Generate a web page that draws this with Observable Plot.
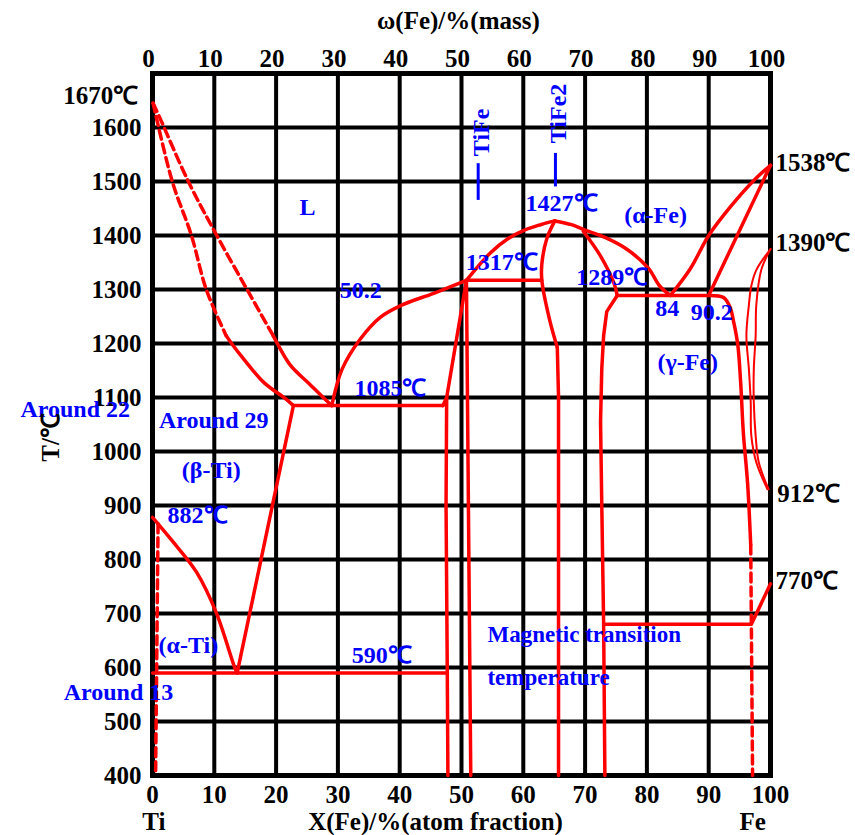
<!DOCTYPE html>
<html><head><meta charset="utf-8">
<script src="https://cdn.jsdelivr.net/npm/d3@7"></script>
<script src="https://cdn.jsdelivr.net/npm/@observablehq/plot@0.6"></script>
<style>html,body{margin:0;padding:0;background:#fff} svg{display:block}</style>
</head><body><div id="chart"></div>
<script>
// ---- axes / ticks ----
const xTicks = [0,10,20,30,40,50,60,70,80,90,100];
const yTicks = [400,500,600,700,800,900,1000,1100,1200,1300,1400,1500,1600];
const yGrid = [400,500,600,700,800,900,1000,1100,1200,1300,1400,1500,1600,1700];

// ---- phase boundaries: [X(Fe) at.%, T °C] ----
const liqTiDashedInner = [[0.1,1645],[3.2,1500],[6.3,1400],[8.7,1300],[11.9,1215]];
const liqTiSolidInner  = [[11.9,1215],[12.8,1200],[14.7,1172],[18,1128],[21.6,1097],[22.8,1085]];
const liqTiDashedOuter = [[0.1,1645],[1.3,1615],[5.8,1500],[10.4,1400],[15.3,1300],[19.5,1215]];
const liqTiSolidOuter  = [[19.5,1215],[20.2,1200],[22.3,1160],[25.4,1125],[27.8,1098],[29,1085]];
const eutectic1085 = [[22.8,1085],[47.0,1085]];
const tiFeLeftUpper = [[47.0,1085],[47.6,1100],[50.8,1317]];
const tiFeLeftLower = [[47.6,1100],[47.5,900],[47.7,590],[47.8,400]];
const tiFeRight = [[50.8,1317],[51.5,400]];
const liquidus502 = [[29,1085],[30.7,1153],[33.6,1208],[36.9,1249],[40.3,1271],[45.5,1293],[50.8,1317]];
const liqTiFe2Left = [[50.8,1317],[54.7,1368],[57.5,1394],[60.2,1410],[62.8,1420],[65.1,1427]];
const liqFeSide = [[65.1,1427],[67.8,1420],[70,1410],[73.3,1396],[76.7,1375],[80.2,1340],[82.1,1306],[83.8,1289]];
const peritectic1317 = [[50.8,1317],[63.0,1317]];
const tiFe2LeftUpper = [[65.1,1427],[63.8,1394],[63.0,1347],[63.0,1317],[64.3,1242],[65.5,1193]];
const tiFe2LeftLower = [[65.5,1193],[65.7,1100],[65.7,400]];
const tiFe2RightUpper = [[69.7,1408],[72.5,1362],[74.7,1311],[75.2,1289]];
const tiFe2RightLower = [[75.2,1289],[73.5,1259],[73.0,1215],[72.7,1153],[72.5,1055],[72.7,900],[73.0,680],[73.2,400]];
const eutectic1289 = [[75.2,1289],[90,1289]];
const deltaLiquidus = [[83.8,1289],[87,1338],[90,1400],[93.5,1453],[97.3,1502],[100,1530]];
const deltaSolidus = [[90,1289],[100,1530]];
const gammaSolvus = [[90,1289],[92.4,1285],[93.5,1266],[94.0,1242],[94.7,1198],[95.2,1122],[95.6,1036],[96.3,940],[96.8,827]];
const gammaSolvusDashed = [[96.8,827],[97.1,400]];
const magneticLine = [[73.0,680],[96.9,680],[100,755]];
const gammaLoopOuter = [[100,1375],[97.7,1336],[96.9,1307],[96.5,1271],[96.1,1215],[96.5,1153],[96.8,1091],[96.9,1029],[97.7,980],[99.5,930]];
const gammaLoopInner = [[100,1375],[98.5,1336],[97.7,1271],[97.6,1215],[97.3,1153],[97.3,1091],[97.6,1029],[98.1,980],[99.7,930]];
const betaSolvus = [[22.8,1085],[13.7,590]];
const alphaTransus = [[0,878],[3.3,833],[7.1,777],[10.3,702],[13.3,600],[13.7,590]];
const eutectoid590 = [[0,590],[47.7,590]];
const tiAlphaDashed = [[0.9,866],[0.5,400]];

// compound markers: [x, yLow, yHigh]
const compoundMarks = [[52.7,1465,1533],[65.2,1490,1552]];

// ---- annotations ----
const blueLabels = [
  ["L",25.1,1452],["50.2",33.7,1298],["1085℃",38.5,1117],["Around 22",-12.5,1078],
  ["Around 29",9.9,1057],["(β-Ti)",9.5,965],["882℃",7.3,881],["(α-Ti)",5.8,641],
  ["Around 13",-5.5,554],["590℃",37.1,622],["1317℃",56.5,1350],["1427℃",66.2,1459],
  ["(α-Fe)",81.4,1437],["1289℃",74.4,1322],["84",83.3,1265],["90.2",90.5,1257],["(γ-Fe)",86.6,1165]
];
const blueSmall = [["Magnetic transition",54.2,661],["temperature",54.2,581]];
const blueRotated = [["TiFe",53.2,1591],["TiFe2",65.7,1626]];
const blackRight = [["1538℃",100.8,1535],["1390℃",100.8,1387],["912℃",101.1,922],["770℃",100.8,761]];
const blackLeft = [["1670℃",-2.3,1659]];
const bottomTexts = [["Ti",0.2,313],["X(Fe)/%(atom fraction)",45.8,313],["Fe",97.1,313]];
const topTitle = [["ω(Fe)/%(mass)",49.5,1798]];
const yTitle = [["T/℃",-16.5,1026]];

const RED = "#ff0000", BLUE = "#0000ff";
const smooth = [liqTiSolidInner, liqTiSolidOuter, liquidus502, liqTiFe2Left, liqFeSide,
  tiFe2LeftUpper, tiFe2RightUpper, deltaLiquidus, gammaSolvus, alphaTransus];
const straight = [eutectic1085, tiFeLeftUpper, tiFeLeftLower, tiFeRight, peritectic1317,
  tiFe2LeftLower, tiFe2RightLower, eutectic1289, deltaSolidus, magneticLine, betaSolvus, eutectoid590];
const dashed = [liqTiDashedInner, liqTiDashedOuter, gammaSolvusDashed, tiAlphaDashed];
const thin = [gammaLoopOuter, gammaLoopInner];

const P = d => d[0], Q = d => d[1];
const base = {x: P, y: Q, stroke: RED, strokeWidth: 3.5, strokeLinejoin: "round", strokeLinecap: "round"};
const lineMarks = [
  ...smooth.map(s => Plot.line(s, {...base, curve: "catmull-rom"})),
  ...straight.map(s => Plot.line(s, base)),
  ...dashed.map(s => Plot.line(s, {x: P, y: Q, stroke: RED, strokeWidth: 3.5, strokeDasharray: "9,5", curve: "catmull-rom"})),
  ...thin.map(s => Plot.line(s, {x: P, y: Q, stroke: RED, strokeWidth: 2, curve: "catmull-rom"}))
];

const chart = Plot.plot({
  width: 855, height: 835,
  marginLeft: 152, marginRight: 85, marginTop: 73, marginBottom: 60,
  x: {domain: [0,100]},
  y: {domain: [400,1700]},
  style: {fontFamily: "'Liberation Serif','Times New Roman',serif", fontWeight: "bold", fontSize: "25px", background: "#fff", overflow: "visible", color: "#000"},
  marks: [
    Plot.gridX(xTicks, {stroke: "#000", strokeOpacity: 1, strokeWidth: 4}),
    Plot.gridY(yGrid, {stroke: "#000", strokeOpacity: 1, strokeWidth: 4}),
    Plot.frame({stroke: "#000", strokeWidth: 5}),
    Plot.axisX(xTicks, {anchor: "bottom", tickSize: 0, tickPadding: 10, label: null, fontSize: 25, tickFormat: d => String(d)}),
    Plot.axisX(xTicks, {anchor: "top", tickSize: 0, tickPadding: 7, label: null, dx: -4, fontSize: 25, tickFormat: d => String(d)}),
    Plot.axisY(yTicks, {anchor: "left", tickSize: 0, tickPadding: 11, label: null, fontSize: 25, tickFormat: d => String(d)}),
    ...lineMarks,
    Plot.ruleX(compoundMarks, {x: d => d[0], y1: d => d[1], y2: d => d[2], stroke: BLUE, strokeWidth: 3}),
    Plot.text(blueLabels, {x: d => d[1], y: d => d[2], text: d => d[0], fill: BLUE, fontSize: 24}),
    Plot.text(blueSmall, {x: d => d[1], y: d => d[2], text: d => d[0], fill: BLUE, fontSize: 23, textAnchor: "start"}),
    Plot.text(blueRotated, {x: d => d[1], y: d => d[2], text: d => d[0], fill: BLUE, fontSize: 24, rotate: -90}),
    Plot.text(blackRight, {x: d => d[1], y: d => d[2], text: d => d[0], fill: "#000", fontSize: 25, textAnchor: "start"}),
    Plot.text(blackLeft, {x: d => d[1], y: d => d[2], text: d => d[0], fill: "#000", fontSize: 25, textAnchor: "end"}),
    Plot.text(bottomTexts, {x: d => d[1], y: d => d[2], text: d => d[0], fill: "#000", fontSize: 25}),
    Plot.text(topTitle, {x: d => d[1], y: d => d[2], text: d => d[0], fill: "#000", fontSize: 25}),
    Plot.text(yTitle, {x: d => d[1], y: d => d[2], text: d => d[0], fill: "#000", fontSize: 25, rotate: -90})
  ]
});
document.getElementById("chart").appendChild(chart);
</script></body></html>
